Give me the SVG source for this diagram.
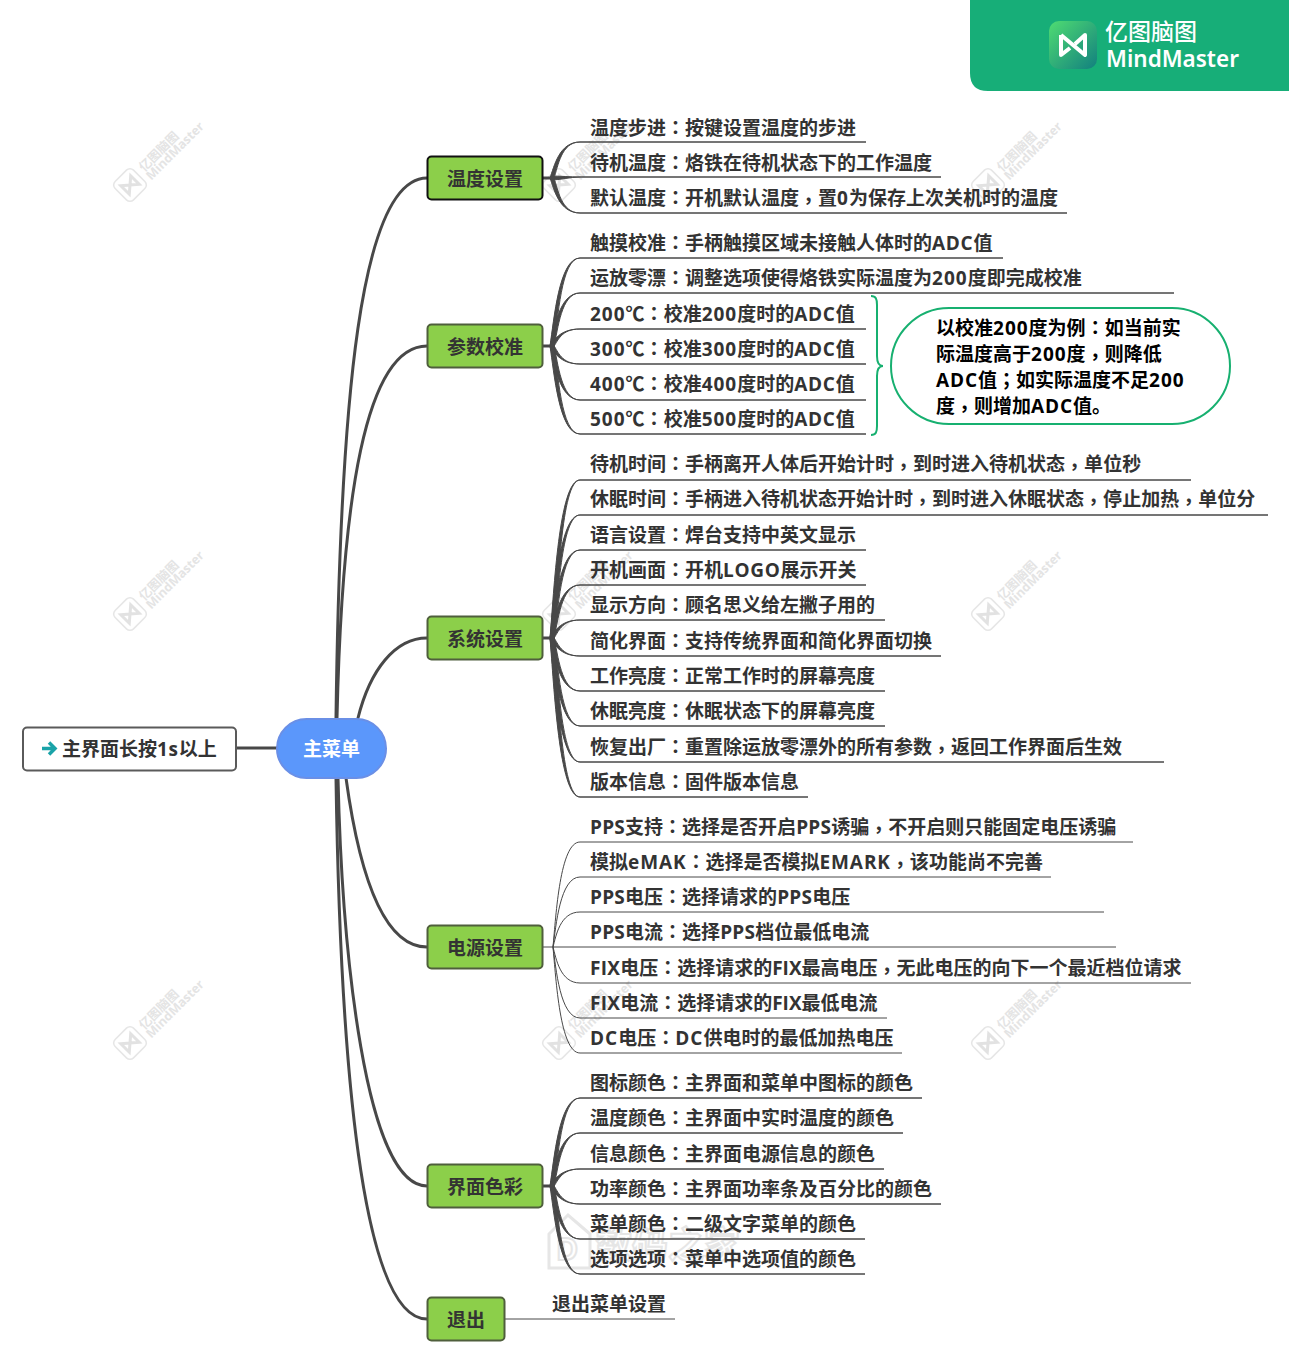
<svg xmlns="http://www.w3.org/2000/svg" xmlns:xlink="http://www.w3.org/1999/xlink" width="1289" height="1362" viewBox="0 0 1289 1362">
<style>
text{font-family:"Open Sans","Noto Sans CJK SC",sans-serif;font-weight:700;font-size:19px;fill:#333}
.p{font-family:"Noto Sans CJK TC",sans-serif}
.d{letter-spacing:1px}
.a{letter-spacing:.7px}
.b{letter-spacing:.9px}
.s{letter-spacing:.25px}
.nt{text-anchor:middle}
.n{fill:#8ccf4a;stroke:#4f5f3c;stroke-width:2}
.w{fill:#484848;stroke:#484848;stroke-width:1;stroke-linejoin:round}
.t{fill:none;stroke:#484848;stroke-width:1}
.r{fill:none;stroke:#484848;stroke-width:3;stroke-linecap:round}
.wm text{fill:#e4e4e4}
.cb text{fill:#000}
.mk{fill:#fff;stroke:#e6e6e6;stroke-width:2;font-size:38px}
</style>
<defs>
<linearGradient id="lg" x1="0" y1="0" x2="1" y2="1"><stop offset="0" stop-color="#4fdc72"/><stop offset="1" stop-color="#12807f"/></linearGradient>
<g id="wm" class="wm">
<rect x="-13" y="-13" width="26" height="26" rx="5" fill="none" stroke="#e6e6e6" stroke-width="1.5"/>
<path d="M-7 -6 L7 6 V-6 L-7 6 Z" fill="none" stroke="#e2e2e2" stroke-width="3"/>
<text x="19" y="1" style="font-size:12.5px">亿图脑图</text>
<text x="18" y="12" style="font-size:12.5px">MindMaster</text>
</g>
</defs>
<rect width="1289" height="1362" fill="#fff"/>
<g id="watermarks">
<use xlink:href="#wm" href="#wm" transform="translate(130 185) rotate(-45)"/>
<use xlink:href="#wm" href="#wm" transform="translate(559 185) rotate(-45)"/>
<use xlink:href="#wm" href="#wm" transform="translate(988 185) rotate(-45)"/>
<use xlink:href="#wm" href="#wm" transform="translate(130 614) rotate(-45)"/>
<use xlink:href="#wm" href="#wm" transform="translate(559 614) rotate(-45)"/>
<use xlink:href="#wm" href="#wm" transform="translate(988 614) rotate(-45)"/>
<use xlink:href="#wm" href="#wm" transform="translate(130 1043) rotate(-45)"/>
<use xlink:href="#wm" href="#wm" transform="translate(559 1043) rotate(-45)"/>
<use xlink:href="#wm" href="#wm" transform="translate(988 1043) rotate(-45)"/>
<path d="M549 1234L568 1215L590 1234V1268H549Z" fill="none" stroke="#e6e6e6" stroke-width="3"/>
<text class="mk" x="556" y="1260" style="font-size:30px;fill:#fff;stroke:#e6e6e6;stroke-width:2">D</text>
<text class="mk" x="596" y="1258" style="font-size:36px;fill:#fff;stroke:#e6e6e6;stroke-width:2">数码之家</text>
</g>
<g id="connectors">
<path class="r" d="M236 748H277"/>
<path class="r" d="M336 718C340 400 360 178 427 178"/>
<path class="r" d="M337 718C342 500 365 346 427 346"/>
<path class="r" d="M358 718C370 670 395 638 427 638"/>
<path class="r" d="M346 778C360 880 385 947 427 947"/>
<path class="r" d="M338 778C342 950 365 1186 427 1186"/>
<path class="r" d="M336 778C340 1050 360 1319 427 1319"/>
<path class="r" d="M543 178H552M543 346H552M543 638H552M543 1186H552"/>
<path class="t" d="M543 947H553M505 1319H675"/>
<path class="w" d="M550 178C554 167 559 142 580 142L866 142L580 142C561 142 558 167 554 178Z"/>
<path class="w" d="M551 176C560 176 570 177 580 177L941 177L580 177C570 177 560 180 551 180Z"/>
<path class="w" d="M550 178C554 189 559 213 580 213L1067 213L580 213C561 213 558 189 554 178Z"/>
<path class="w" d="M550 346C554 320 559 258 580 258L1003 258L580 258C561 258 558 320 554 346Z"/>
<path class="w" d="M550 346C554 330 559 293 580 293L1174 293L580 293C561 293 558 330 554 346Z"/>
<path class="w" d="M550 346C554 341 559 329 580 329L866 329L580 329C561 329 558 341 554 346Z"/>
<path class="w" d="M550 346C554 351 559 364 580 364L866 364L580 364C561 364 558 351 554 346Z"/>
<path class="w" d="M550 346C554 362 559 400 580 400L866 400L580 400C561 400 558 362 554 346Z"/>
<path class="w" d="M550 346C554 372 559 434 580 434L866 434L580 434C561 434 558 372 554 346Z"/>
<path class="w" d="M550 638C554 591 559 480 580 480L1191 480L580 480C561 480 558 591 554 638Z"/>
<path class="w" d="M550 638C554 601 559 515 580 515L1268 515L580 515C561 515 558 601 554 638Z"/>
<path class="w" d="M550 638C554 612 559 550 580 550L866 550L580 550C561 550 558 612 554 638Z"/>
<path class="w" d="M550 638C554 622 559 585 580 585L866 585L580 585C561 585 558 622 554 638Z"/>
<path class="w" d="M550 638C554 633 559 620 580 620L885 620L580 620C561 620 558 633 554 638Z"/>
<path class="w" d="M550 638C554 643 559 656 580 656L941 656L580 656C561 656 558 643 554 638Z"/>
<path class="w" d="M550 638C554 654 559 691 580 691L885 691L580 691C561 691 558 654 554 638Z"/>
<path class="w" d="M550 638C554 664 559 726 580 726L885 726L580 726C561 726 558 664 554 638Z"/>
<path class="w" d="M550 638C554 675 559 762 580 762L1164 762L580 762C561 762 558 675 554 638Z"/>
<path class="w" d="M550 638C554 686 559 797 580 797L808 797L580 797C561 797 558 686 554 638Z"/>
<path class="t" d="M553 947C556 915 560 842 580 842H1133"/>
<path class="t" d="M553 947C556 926 560 877 580 877H1051"/>
<path class="t" d="M553 947C556 936 560 912 580 912H1104"/>
<path class="t" d="M553 947H1116"/>
<path class="t" d="M553 947C556 958 560 983 580 983H1191"/>
<path class="t" d="M553 947C556 968 560 1018 580 1018H887"/>
<path class="t" d="M553 947C556 979 560 1053 580 1053H902"/>
<path class="w" d="M550 1186C554 1160 559 1098 580 1098L922 1098L580 1098C561 1098 558 1160 554 1186Z"/>
<path class="w" d="M550 1186C554 1170 559 1133 580 1133L903 1133L580 1133C561 1133 558 1170 554 1186Z"/>
<path class="w" d="M550 1186C554 1181 559 1169 580 1169L884 1169L580 1169C561 1169 558 1181 554 1186Z"/>
<path class="w" d="M550 1186C554 1191 559 1204 580 1204L941 1204L580 1204C561 1204 558 1191 554 1186Z"/>
<path class="w" d="M550 1186C554 1202 559 1239 580 1239L865 1239L580 1239C561 1239 558 1202 554 1186Z"/>
<path class="w" d="M550 1186C554 1212 559 1274 580 1274L865 1274L580 1274C561 1274 558 1212 554 1186Z"/>
<path d="M871 296C876 296 877 299 877 305V356Q877 366 883 366Q877 366 877 376V426C877 432 876 435 871 435" fill="none" stroke="#17b070" stroke-width="2"/>
</g>
<g id="banner">
<path d="M970 0H1289V91H988Q970 91 970 73Z" fill="#17ae78"/>
<rect x="1049" y="21" width="48" height="48" rx="10" fill="url(#lg)"/>
<path d="M1061 35V55L1070 48M1061 35L1085 55V35L1075 44" fill="none" stroke="#fff" stroke-width="4" stroke-linejoin="round"/>
<text x="1105" y="40" style="font-size:23px;fill:#fff;font-weight:500">亿图脑图</text>
<text x="1106" y="67" style="font-family:'Noto Sans',sans-serif;font-size:22.5px;fill:#fff;font-weight:600">MindMaster</text>
</g>
<g id="note-start"><rect x="23" y="727.500" width="213" height="43" rx="4" fill="#fff" stroke="#5a5a5a" stroke-width="2"/>
<path d="M42 748.500H54M49 742.500L55 748.500L49 754.500" fill="none" stroke="#1aa3a8" stroke-width="3.500"/>
<text x="62" y="756">主界面长按<tspan class="a">1s</tspan>以上</text></g>
<g id="root"><rect x="277" y="719" width="109" height="59" rx="29.500" fill="#5b97fb" stroke="#6a8fe6" stroke-width="2"/><text class="nt" x="331.500" y="756" style="fill:#fff">主菜单</text></g>
<g id="n1"><rect class="n" x="427.500" y="156.500" width="115" height="43" rx="4" style="stroke:#111"/><text class="nt" x="485" y="186">温度设置</text></g>
<g id="n2"><rect class="n" x="427.500" y="324.500" width="115" height="43" rx="4"/><text class="nt" x="485" y="354">参数校准</text></g>
<g id="n3"><rect class="n" x="427.500" y="616.500" width="115" height="43" rx="4"/><text class="nt" x="485" y="646">系统设置</text></g>
<g id="n4"><rect class="n" x="427.500" y="925.500" width="115" height="43" rx="4"/><text class="nt" x="485" y="955">电源设置</text></g>
<g id="n5"><rect class="n" x="427.500" y="1164.500" width="115" height="43" rx="4"/><text class="nt" x="485" y="1194">界面色彩</text></g>
<g id="n6"><rect class="n" x="427.500" y="1297.500" width="77" height="43" rx="4"/><text class="nt" x="466" y="1327">退出</text></g>
<g id="leaves">
<g id="l1"><text x="590" y="135">温度步进<tspan class="p">：</tspan>按键设置温度的步进</text></g>
<g id="l2"><text x="590" y="170">待机温度<tspan class="p">：</tspan>烙铁在待机状态下的工作温度</text></g>
<g id="l3"><text x="590" y="205">默认温度<tspan class="p">：</tspan>开机默认温度<tspan class="p" dy="3">，</tspan><tspan dy="-3">置</tspan><tspan class="d">0</tspan>为保存上次关机时的温度</text></g>
<g id="l4"><text x="590" y="250">触摸校准<tspan class="p">：</tspan>手柄触摸区域未接触人体时的<tspan class="a">ADC</tspan>值</text></g>
<g id="l5"><text x="590" y="285">运放零漂<tspan class="p">：</tspan>调整选项使得烙铁实际温度为<tspan class="d">200</tspan>度即完成校准</text></g>
<g id="l6"><text x="590" y="321"><tspan class="d">200</tspan>℃<tspan class="p">：</tspan>校准<tspan class="d">200</tspan>度时的<tspan class="a">ADC</tspan>值</text></g>
<g id="l7"><text x="590" y="356"><tspan class="d">300</tspan>℃<tspan class="p">：</tspan>校准<tspan class="d">300</tspan>度时的<tspan class="a">ADC</tspan>值</text></g>
<g id="l8"><text x="590" y="391"><tspan class="d">400</tspan>℃<tspan class="p">：</tspan>校准<tspan class="d">400</tspan>度时的<tspan class="a">ADC</tspan>值</text></g>
<g id="l9"><text x="590" y="426"><tspan class="d">500</tspan>℃<tspan class="p">：</tspan>校准<tspan class="d">500</tspan>度时的<tspan class="a">ADC</tspan>值</text></g>
<g id="l10"><text x="590" y="471">待机时间<tspan class="p">：</tspan>手柄离开人体后开始计时<tspan class="p" dy="3">，</tspan><tspan dy="-3">到</tspan>时进入待机状态<tspan class="p" dy="3">，</tspan><tspan dy="-3">单</tspan>位秒</text></g>
<g id="l11"><text x="590" y="506">休眠时间<tspan class="p">：</tspan>手柄进入待机状态开始计时<tspan class="p" dy="3">，</tspan><tspan dy="-3">到</tspan>时进入休眠状态<tspan class="p" dy="3">，</tspan><tspan dy="-3">停</tspan>止加热<tspan class="p" dy="3">，</tspan><tspan dy="-3">单</tspan>位分</text></g>
<g id="l12"><text x="590" y="542">语言设置<tspan class="p">：</tspan>焊台支持中英文显示</text></g>
<g id="l13"><text x="590" y="577">开机画面<tspan class="p">：</tspan>开机<tspan class="a">LOGO</tspan>展示开关</text></g>
<g id="l14"><text x="590" y="612">显示方向<tspan class="p">：</tspan>顾名思义给左撇子用的</text></g>
<g id="l15"><text x="590" y="648">简化界面<tspan class="p">：</tspan>支持传统界面和简化界面切换</text></g>
<g id="l16"><text x="590" y="683">工作亮度<tspan class="p">：</tspan>正常工作时的屏幕亮度</text></g>
<g id="l17"><text x="590" y="718">休眠亮度<tspan class="p">：</tspan>休眠状态下的屏幕亮度</text></g>
<g id="l18"><text x="590" y="754">恢复出厂<tspan class="p">：</tspan>重置除运放零漂外的所有参数<tspan class="p" dy="3">，</tspan><tspan dy="-3">返</tspan>回工作界面后生效</text></g>
<g id="l19"><text x="590" y="789">版本信息<tspan class="p">：</tspan>固件版本信息</text></g>
<g id="l20"><text x="590" y="834"><tspan class="s">PPS</tspan>支持<tspan class="p">：</tspan>选择是否开启<tspan class="s">PPS</tspan>诱骗<tspan class="p" dy="3">，</tspan><tspan dy="-3">不</tspan>开启则只能固定电压诱骗</text></g>
<g id="l21"><text x="590" y="869">模拟<tspan class="b">eMAK</tspan><tspan class="p">：</tspan>选择是否模拟<tspan class="b">EMARK</tspan><tspan class="p" dy="3">，</tspan><tspan dy="-3">该</tspan>功能尚不完善</text></g>
<g id="l22"><text x="590" y="904"><tspan class="s">PPS</tspan>电压<tspan class="p">：</tspan>选择请求的<tspan class="s">PPS</tspan>电压</text></g>
<g id="l23"><text x="590" y="939"><tspan class="s">PPS</tspan>电流<tspan class="p">：</tspan>选择<tspan class="s">PPS</tspan>档位最低电流</text></g>
<g id="l24"><text x="590" y="975"><tspan class="s">FIX</tspan>电压<tspan class="p">：</tspan>选择请求的FIX最高电压<tspan class="p" dy="3">，</tspan><tspan dy="-3">无</tspan>此电压的向下一个最近档位请求</text></g>
<g id="l25"><text x="590" y="1010"><tspan class="s">FIX</tspan>电流<tspan class="p">：</tspan>选择请求的FIX最低电流</text></g>
<g id="l26"><text x="590" y="1045"><tspan class="d">DC</tspan>电压<tspan class="p">：</tspan><tspan class="d">DC</tspan>供电时的最低加热电压</text></g>
<g id="l27"><text x="590" y="1090">图标颜色<tspan class="p">：</tspan>主界面和菜单中图标的颜色</text></g>
<g id="l28"><text x="590" y="1125">温度颜色<tspan class="p">：</tspan>主界面中实时温度的颜色</text></g>
<g id="l29"><text x="590" y="1161">信息颜色<tspan class="p">：</tspan>主界面电源信息的颜色</text></g>
<g id="l30"><text x="590" y="1196">功率颜色<tspan class="p">：</tspan>主界面功率条及百分比的颜色</text></g>
<g id="l31"><text x="590" y="1231">菜单颜色<tspan class="p">：</tspan>二级文字菜单的颜色</text></g>
<g id="l32"><text x="590" y="1266">选项选项<tspan class="p">：</tspan>菜单中选项值的颜色</text></g>
<g id="l33"><text x="552" y="1311">退出菜单设置</text></g>
</g>
<g id="callout" class="cb"><rect x="891" y="308" width="339" height="116" rx="58" fill="#fff" stroke="#17b070" stroke-width="2"/>
<text x="936" y="335">以校准<tspan class="d">200</tspan>度为例<tspan class="p">：</tspan>如当前实</text>
<text x="936" y="361">际温度高于<tspan class="d">200</tspan>度<tspan class="p" dy="3">，</tspan><tspan dy="-3">则</tspan>降低</text>
<text x="936" y="387"><tspan class="b">ADC</tspan>值<tspan class="p">；</tspan>如实际温度不足<tspan class="d">200</tspan></text>
<text x="936" y="413">度<tspan class="p" dy="3">，</tspan><tspan dy="-3">则</tspan>增加<tspan class="b">ADC</tspan>值。</text></g>
</svg>
